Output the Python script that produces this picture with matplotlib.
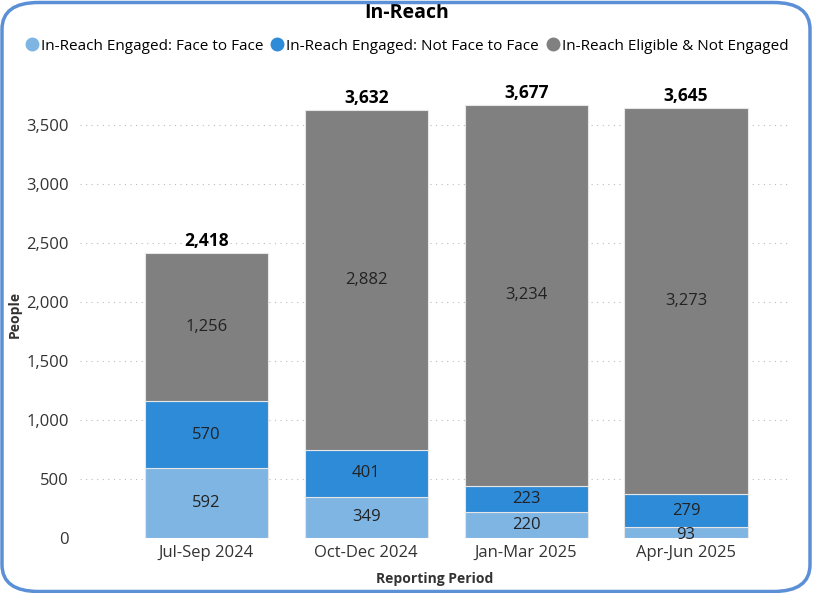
import matplotlib.pyplot as plt
from matplotlib.patches import FancyBboxPatch
from matplotlib.lines import Line2D
import numpy as np

plt.rcParams['font.family'] = ['Open Sans', 'DejaVu Sans']

periods = ["Jul-Sep 2024", "Oct-Dec 2024", "Jan-Mar 2025", "Apr-Jun 2025"]
face_to_face = [592, 349, 220, 93]
not_face_to_face = [570, 401, 223, 279]
not_engaged = [1256, 2882, 3234, 3273]
totals = [2418, 3632, 3677, 3645]

series_names = ["In-Reach Engaged: Face to Face",
                "In-Reach Engaged: Not Face to Face",
                "In-Reach Eligible & Not Engaged"]
colors = ["#7fb5e3", "#2e8bd8", "#808080"]

fig = plt.figure(figsize=(8.14, 5.93), dpi=100)
ax = fig.add_axes([80 / 814, 55 / 593, 710 / 814, 448 / 593])

x = np.arange(len(periods))
bottom = np.zeros(len(periods))
for vals, col in zip([face_to_face, not_face_to_face, not_engaged], colors):
    ax.bar(x, vals, 0.77, bottom=bottom, color=col, edgecolor="#e6e6e6", linewidth=0.8, zorder=2)
    for xi, b, v in zip(x, bottom, vals):
        ypos = b + v / 2
        if v < 150:
            ypos = b + v / 2 - 22
        ax.text(xi, ypos, f"{v:,}", ha="center", va="center", fontsize=12, color="#222222", zorder=3)
    bottom += np.array(vals)

for xi, t in zip(x, totals):
    ax.text(xi, t + 25, f"{t:,}", ha="center", va="bottom", fontsize=12.5, fontweight="bold", color="black")

ax.set_xlim(-0.79, 3.65)
ax.set_ylim(0, 3800)
ax.set_yticks(range(0, 3501, 500))
ax.set_yticklabels([f"{v:,}" for v in range(0, 3501, 500)])
ax.set_xticks(x)
ax.set_xticklabels(periods)
ax.tick_params(axis="both", length=0, labelsize=12, colors="#333333")
ax.tick_params(axis="y", pad=8)
ax.tick_params(axis="x", pad=5)
ax.yaxis.grid(True, linestyle=(0, (1, 4)), color="#bbbbbb", linewidth=0.8, zorder=0)
for s in ax.spines.values():
    s.set_visible(False)

ax.set_ylabel("People", fontsize=10, fontweight="bold", color="#333333", labelpad=3)
ax.set_xlabel("Reporting Period", fontsize=10, fontweight="bold", color="#333333", labelpad=8)

fig.text(0.5, 1 - 13 / 593, "In-Reach", ha="center", va="center", fontsize=14, fontweight="bold")

handles = [Line2D([], [], marker="o", linestyle="", color=c, markersize=9) for c in colors]
fig.legend(handles, series_names, loc="center", bbox_to_anchor=(0.5, 1 - 46 / 593), ncol=3,
           frameon=False, fontsize=11, handlelength=0.8, handletextpad=0.2, columnspacing=0.5,
           borderaxespad=0)

border = FancyBboxPatch((2 / 814, 1.5 / 593), 808 / 814, 589 / 593,
                        boxstyle="round,pad=0,rounding_size=0.045", transform=fig.transFigure,
                        facecolor="none", edgecolor="#5b8fd6", linewidth=2.5, zorder=10)
fig.patches.append(border)

fig.savefig("out.png", dpi=100)
